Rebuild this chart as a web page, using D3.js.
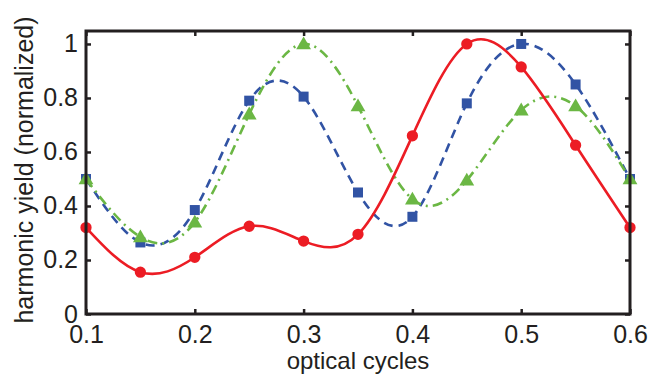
<!DOCTYPE html>
<html>
<head>
<meta charset="utf-8">
<script src="https://cdn.jsdelivr.net/npm/d3@7"></script>
<style>
  body { margin: 0; background: #fff; }
  svg text { font-family: "Liberation Sans", Arial, Helvetica, sans-serif; fill: #231f20; }
</style>
</head>
<body>
<div id="chart"></div>
<script>
// x positions (optical cycles)
const cycles = [0.1, 0.15, 0.2, 0.25, 0.3, 0.35, 0.4, 0.45, 0.5, 0.55, 0.6];

// normalized harmonic yield for each series
const redYield = [0.32, 0.155, 0.21, 0.325, 0.27, 0.295, 0.66, 1.0, 0.915, 0.625, 0.32];
const blueYield = [0.5, 0.265, 0.385, 0.79, 0.805, 0.45, 0.36, 0.78, 1.0, 0.85, 0.5];
const greenYield = [0.5, 0.285, 0.34, 0.74, 1.0, 0.77, 0.425, 0.495, 0.755, 0.77, 0.5];

const xTicks = [0.1, 0.2, 0.3, 0.4, 0.5, 0.6];
const yTicks = [0, 0.2, 0.4, 0.6, 0.8, 1];

const W = 649, H = 376;
const margin = { top: 31, right: 19, bottom: 62, left: 86 };
const iw = W - margin.left - margin.right;
const ih = H - margin.top - margin.bottom;

const svg = d3.select('#chart').append('svg')
  .attr('width', W)
  .attr('height', H);

const g = svg.append('g')
  .attr('transform', `translate(${margin.left},${margin.top})`);

const x = d3.scaleLinear().domain([0.1, 0.6]).range([0, iw]);
const y = d3.scaleLinear().domain([0, 1.048]).range([ih, 0]);

// clip so the spline stays inside the box
g.append('clipPath').attr('id', 'clip')
  .append('rect').attr('width', iw).attr('height', ih);

const series = [
  { name: 'blue', values: blueYield, color: '#3153a4', dash: '9,6', marker: 'square' },
  { name: 'green', values: greenYield, color: '#6bb744', dash: '10,5,2,5', marker: 'triangle' },
  { name: 'red', values: redYield, color: '#ec1c24', dash: null, marker: 'circle' }
];

const line = d3.line()
  .x(d => x(d[0]))
  .y(d => y(d[1]))
  .curve(d3.curveNatural);

const symbols = {
  square: d3.symbol().type(d3.symbolSquare).size(100),
  triangle: d3.symbol().type(d3.symbolTriangle).size(95),
  circle: d3.symbol().type(d3.symbolCircle).size(100)
};

series.forEach(s => {
  const pts = cycles.map((c, i) => [c, s.values[i]]);
  g.append('path')
    .attr('clip-path', 'url(#clip)')
    .attr('d', line(pts))
    .attr('fill', 'none')
    .attr('stroke', s.color)
    .attr('stroke-width', 2.6)
    .attr('stroke-dasharray', s.dash);

  g.selectAll(`.m-${s.name}`)
    .data(pts)
    .enter()
    .append('path')
    .attr('class', `m-${s.name}`)
    .attr('d', symbols[s.marker])
    .attr('transform', d => `translate(${x(d[0])},${y(d[1]) + (s.marker === 'triangle' ? 1 : 0)})`)
    .attr('fill', s.color);
});

// axes: ticks pointing inward on all four sides
const tickLen = 5;
g.append('g')
  .attr('transform', `translate(0,${ih})`)
  .call(d3.axisBottom(x).tickValues(xTicks).tickSize(-tickLen).tickPadding(11).tickFormat(d3.format('.1f')))
  .call(a => a.select('.domain').remove())
  .selectAll('text').attr('font-size', 25);

g.append('g')
  .attr('transform', `translate(0,0)`)
  .call(d3.axisTop(x).tickValues(xTicks).tickSize(-tickLen).tickFormat(''))
  .call(a => a.select('.domain').remove());

g.append('g')
  .call(d3.axisLeft(y).tickValues(yTicks).tickSize(-tickLen).tickPadding(8)
    .tickFormat(d => d === 0 || d === 1 ? d3.format('d')(d) : d3.format('.1f')(d)))
  .call(a => a.select('.domain').remove())
  .selectAll('text').attr('font-size', 25);

g.append('g')
  .attr('transform', `translate(${iw},0)`)
  .call(d3.axisRight(y).tickValues(yTicks).tickSize(-tickLen).tickFormat(''))
  .call(a => a.select('.domain').remove());

g.selectAll('.tick line').attr('stroke', '#231f20').attr('stroke-width', 2.5);

// frame
g.append('rect')
  .attr('width', iw)
  .attr('height', ih)
  .attr('fill', 'none')
  .attr('stroke', '#231f20')
  .attr('stroke-width', 3);

// axis titles
svg.append('text')
  .attr('x', margin.left + iw / 2)
  .attr('y', 369)
  .attr('text-anchor', 'middle')
  .attr('font-size', 24)
  .text('optical cycles');

svg.append('text')
  .attr('transform', `translate(33,${H / 2 - 18}) rotate(-90)`)
  .attr('text-anchor', 'middle')
  .attr('font-size', 25)
  .text('harmonic yield (normalized)');
</script>
</body>
</html>
